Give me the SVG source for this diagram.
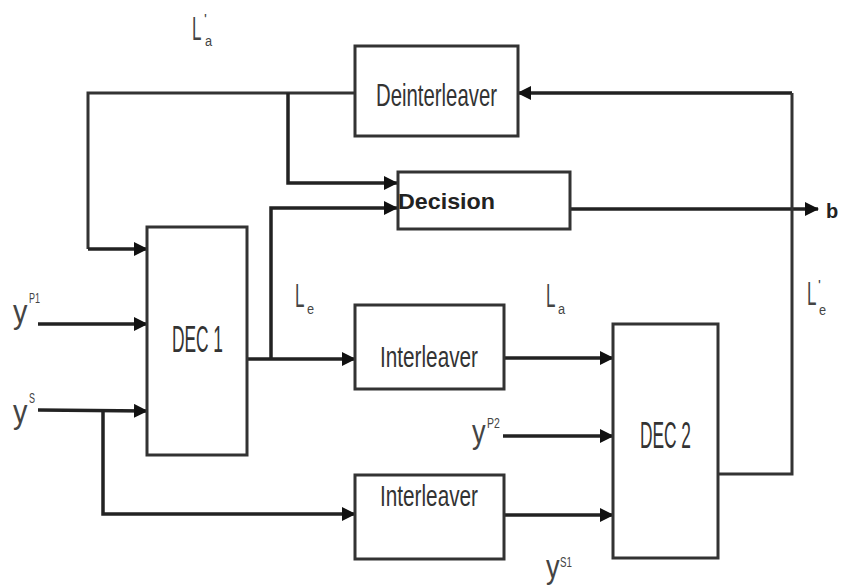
<svg xmlns="http://www.w3.org/2000/svg" width="841" height="588" viewBox="0 0 841 588">
<defs>
<marker id="ah" markerUnits="userSpaceOnUse" markerWidth="14" markerHeight="14" viewBox="0 0 14 14" refX="13" refY="7" orient="auto">
<path d="M0,0 L14,7 L0,14 Z" fill="#111"/>
</marker>
</defs>
<style>
.box{fill:#fff;stroke:#333;stroke-width:3}
.ln{fill:none;stroke:#333;stroke-width:3}
.arr{fill:none;stroke:#222;stroke-width:3.5;marker-end:url(#ah)}
.lbl{font-family:"Liberation Sans",Arial,sans-serif;fill:#333}
.sym{font-family:"Liberation Sans",Arial,sans-serif;fill:#444;font-size:34px}
.sm{font-family:"Liberation Sans",Arial,sans-serif;fill:#444;font-size:15px}
</style>
<rect width="841" height="588" fill="#fff"/>
<g id="connectors">
<path class="arr" d="M792,93 L518,93"/>
<path class="ln" d="M355,93 L88,93 L88,249"/>
<path class="arr" d="M88,249 L147,249"/>
<path class="arr" d="M288,93 L288,183 L397,183"/>
<path class="arr" d="M271,359 L271,208 L397,208"/>
<path class="arr" d="M570,209 L818,209"/>
<path class="ln" d="M718,474 L792,474 L792,93"/>
<path class="arr" d="M38,324 L147,324"/>
<path class="arr" d="M38,410 L147,411"/>
<path class="arr" d="M247,359 L355,359"/>
<path class="arr" d="M103,411 L103,514 L355,514"/>
<path class="arr" d="M504,358 L613,358"/>
<path class="arr" d="M503,436 L613,436"/>
<path class="arr" d="M504,515 L613,515"/>
</g>
<g id="deinterleaver">
<rect class="box" x="355" y="46" width="163" height="90"/>
<text class="lbl" x="376" y="106" font-size="32" textLength="121" lengthAdjust="spacingAndGlyphs">Deinterleaver</text>
</g>
<g id="decision">
<rect class="box" x="398" y="172" width="172" height="57"/>
<text x="398" y="209" font-family="Liberation Sans,Arial,sans-serif" font-weight="bold" font-size="22" fill="#222" textLength="97" lengthAdjust="spacingAndGlyphs">Decision</text>
</g>
<g id="dec1">
<rect class="box" x="147" y="227" width="100" height="228"/>
<text class="lbl" x="172" y="352" font-size="36" textLength="51" lengthAdjust="spacingAndGlyphs">DEC 1</text>
</g>
<g id="interleaver1">
<rect class="box" x="355" y="305" width="149" height="84"/>
<text class="lbl" x="380" y="367" font-size="30" textLength="98" lengthAdjust="spacingAndGlyphs">Interleaver</text>
</g>
<g id="interleaver2">
<rect class="box" x="355" y="475" width="149" height="84"/>
<text class="lbl" x="380" y="506" font-size="30" textLength="98" lengthAdjust="spacingAndGlyphs">Interleaver</text>
</g>
<g id="dec2">
<rect class="box" x="613" y="324" width="105" height="234"/>
<text class="lbl" x="640" y="448" font-size="36" textLength="51" lengthAdjust="spacingAndGlyphs">DEC 2</text>
</g>
<g id="labels">
<text class="sym" transform="translate(192,40) scale(0.5,1)">L</text>
<text class="sm" x="204" y="24">'</text>
<text class="sm" transform="translate(205,46) scale(0.85,1)">a</text>
<text class="sym" transform="translate(295,307) scale(0.5,1)">L</text>
<text class="sm" transform="translate(307,314) scale(0.85,1)">e</text>
<text class="sym" transform="translate(546,307) scale(0.5,1)">L</text>
<text class="sm" transform="translate(558,314) scale(0.85,1)">a</text>
<text class="sym" transform="translate(807,305) scale(0.5,1)">L</text>
<text class="sm" x="818" y="290">'</text>
<text class="sm" transform="translate(819,315) scale(0.85,1)">e</text>
<text class="sym" transform="translate(13,323) scale(0.85,1)">y</text>
<text class="sm" transform="translate(29,303) scale(0.6,1)">P1</text>
<text class="sym" transform="translate(13,423) scale(0.85,1)">y</text>
<text class="sm" transform="translate(29,403) scale(0.6,1)">S</text>
<text class="sym" transform="translate(472,443) scale(0.8,1)">y</text>
<text class="sm" transform="translate(487,428) scale(0.7,1)">P2</text>
<text class="sym" transform="translate(546,578) scale(0.8,1)">y</text>
<text class="sm" transform="translate(560,567) scale(0.65,1)">S1</text>
<text x="826" y="218" font-family="Liberation Sans,Arial,sans-serif" font-weight="bold" font-size="20" fill="#222">b</text>
</g>
</svg>
